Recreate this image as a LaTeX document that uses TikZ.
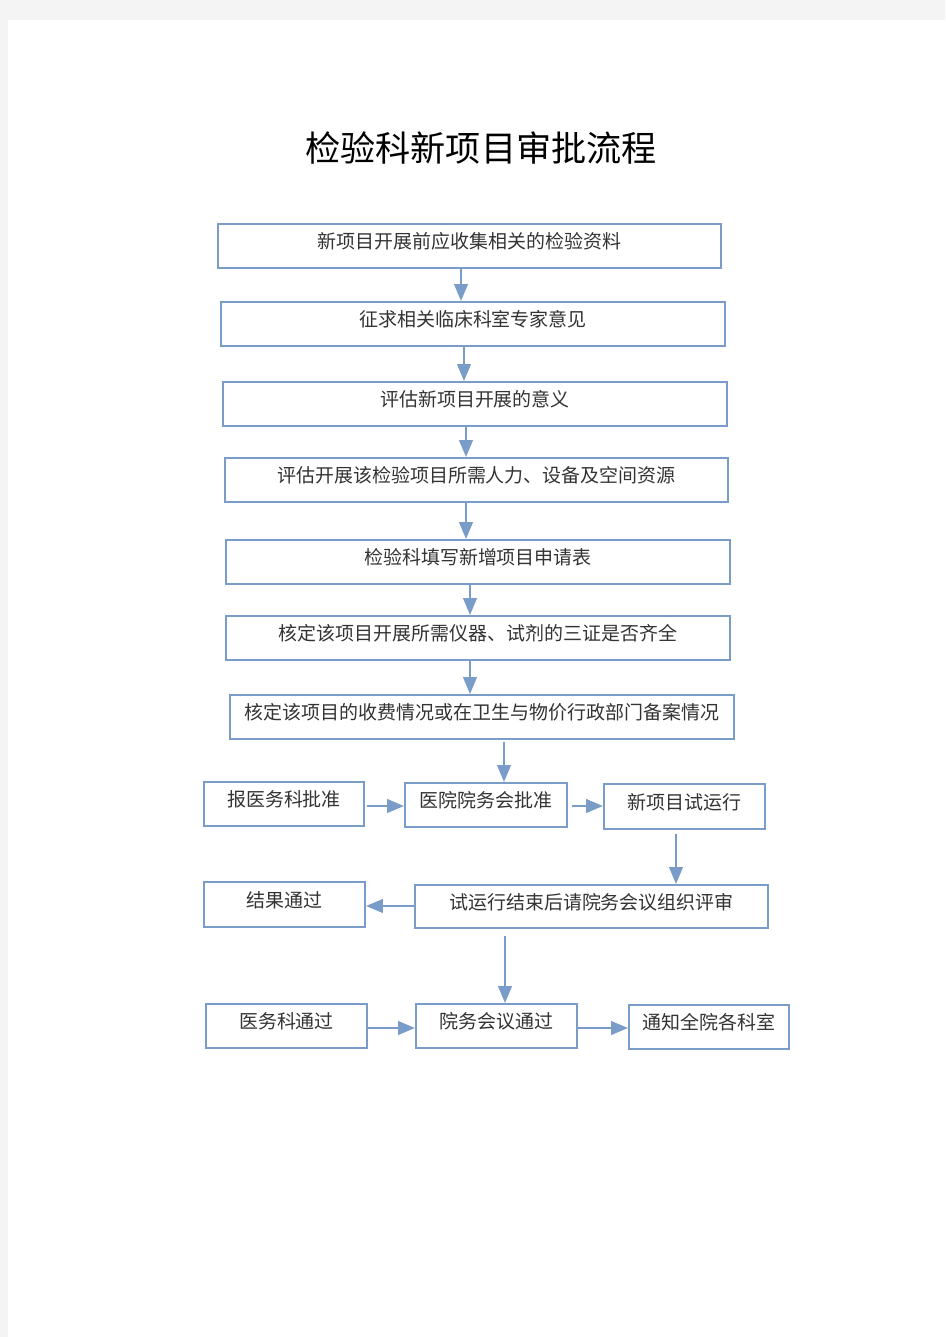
\documentclass[tikz,border=0pt]{standalone}
\usepackage{fontspec}
\setmainfont{Noto Sans CJK SC}
\usepackage{tikz}
\usetikzlibrary{arrows}
\definecolor{flowblue}{RGB}{122,156,200}
\definecolor{pagegray}{RGB}{244,244,244}
\tikzstyle{stepbox} = [rectangle, draw=flowblue, line width=1.3pt, fill=white,
inner sep=0pt, font=\fontsize{10.8}{10.8}\selectfont, text=black!80,
text height=7pt, text depth=3.6pt]
\tikzstyle{flow} = [draw=flowblue, line width=1.2pt, ->, >={triangle 45}]
\tikzstyle{title} = [font=\fontsize{20}{20}\selectfont, text=black]
% box size in pixels of the original layout
\tikzset{size/.style 2 args={minimum width=#1*0.2mm, minimum height=#2*0.2mm}}
\newcommand{\flowdown}[4][]{ %
  % vertical connector from #2 to #3 at x = #4
  \draw[flow,#1] (#2.south -| #4,0) -- (#3.north -| #4,0) ; %
}
\newcommand{\flowside}[4][]{ %
  % horizontal connector from anchor #2 to anchor #3 at y = #4
  \draw[flow,#1] (#2 |- 0,#4) -- (#3 |- 0,#4) ; %
}
\begin{document}
\begin{tikzpicture}[x=0.2mm,y=-0.2mm]

	\useasboundingbox (0,0) rectangle (945,1337);
	\fill[pagegray] (0,0) rectangle (945,1337);
	\fill[white] (8,20) rectangle (945,1337);

	\node[title] (head) at (481,148) {检验科新项目审批流程};

	\node[stepbox, size={503}{44}] (collect)  at (469.5,246) {新项目开展前应收集相关的检验资料};
	\node[stepbox, size={504}{44}] (expert)   at (473,324)   {征求相关临床科室专家意见};
	\node[stepbox, size={504}{44}] (meaning)  at (475,404)   {评估新项目开展的意义};
	\node[stepbox, size={503}{44}] (resource) at (476.5,480) {评估开展该检验项目所需人力、设备及空间资源};
	\node[stepbox, size={504}{44}] (apply)    at (478,562)   {检验科填写新增项目申请表};
	\node[stepbox, size={504}{44}] (certs)    at (478,638)   {核定该项目开展所需仪器、试剂的三证是否齐全};
	\node[stepbox, size={504}{44}] (fees)     at (482,717)   {核定该项目的收费情况或在卫生与物价行政部门备案情况};

	\node[stepbox, size={160}{44}] (medreport) at (284,804)    {报医务科批准};
	\node[stepbox, size={162}{44}] (board)     at (486,805)    {医院院务会批准};
	\node[stepbox, size={161}{45}] (trial)     at (684.5,806.5) {新项目试运行};

	\node[stepbox, size={161}{45}] (passed)    at (284.5,904.5) {结果通过};
	\node[stepbox, size={353}{43}] (review)    at (591.5,906.5) {试运行结束后请院务会议组织评审};

	\node[stepbox, size={161}{44}] (medpass)   at (286.5,1026)  {医务科通过};
	\node[stepbox, size={161}{44}] (boardpass) at (496.5,1026)  {院务会议通过};
	\node[stepbox, size={160}{44}] (notify)    at (709,1027)    {通知全院各科室};

	\flowdown {collect}  {expert}   {461};
	\flowdown {expert}   {meaning}  {464};
	\flowdown {meaning}  {resource} {466};
	\flowdown {resource} {apply}    {466};
	\flowdown {apply}    {certs}    {470};
	\flowdown {certs}    {fees}     {470};
	\flowdown [shorten <=1pt] {fees}   {board}     {504};
	\flowdown [shorten <=2pt] {trial}  {review}    {676};
	\flowdown [shorten <=4pt] {review} {boardpass} {505};

	\flowside [shorten <=1pt] {medreport.east} {board.west}  {806};
	\flowside [shorten <=2pt] {board.east}     {trial.west}  {806};
	\flowside {review.west}    {passed.east}    {906};
	\flowside {medpass.east}   {boardpass.west} {1028};
	\flowside {boardpass.east} {notify.west}    {1028};

\end{tikzpicture}
\end{document}
